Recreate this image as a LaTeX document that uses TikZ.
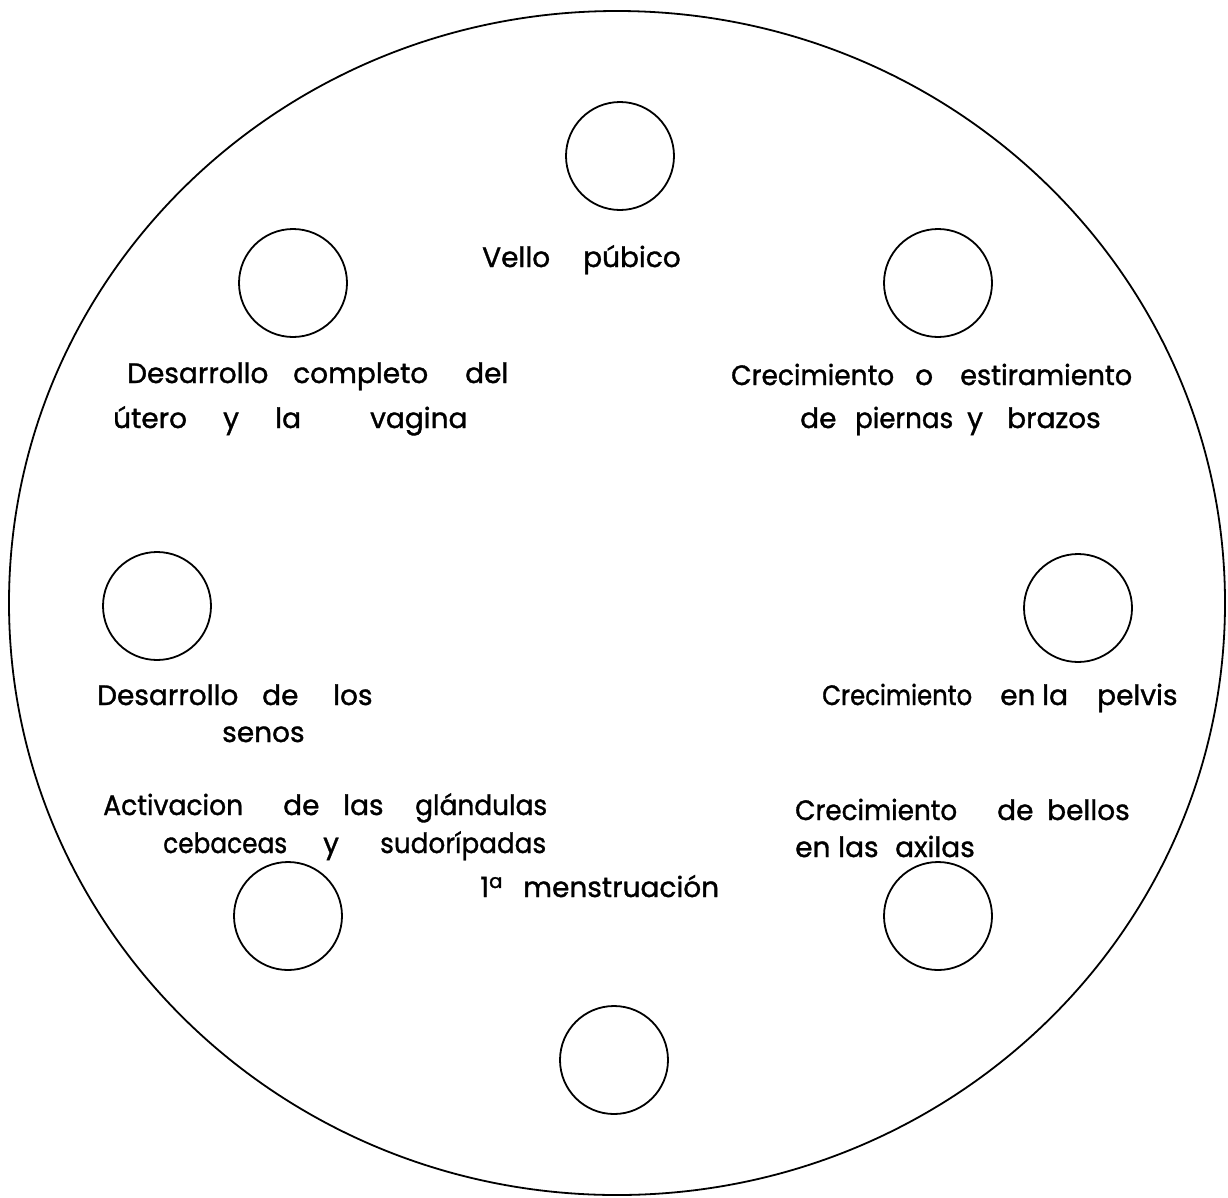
\documentclass[tikz,border=0pt]{standalone}
\usepackage{fontspec}
\usepackage{graphicx}
\setmainfont{Poppins}[FakeBold=1.2]
\newcommand\Wrd[2]{\makebox[#1pt][l]{#2}}
\newcommand\Fit[2]{\resizebox{#1pt}{\height}{#2}}
\begin{document}
\begin{tikzpicture}[x=1pt,y=-1pt,
  spot/.style={circle,draw,line width=1.8pt,minimum size=108pt,inner sep=0pt},
  lbl/.style={anchor=base west,inner sep=0pt,font=\fontsize{28}{32}\selectfont}]
\path[use as bounding box,fill=white] (0,0) rectangle (1228,1197);
\draw[line width=1.8pt] (617,603) ellipse [x radius=608pt, y radius=592pt];

% small circles
\node[spot] (ctop) at (620,156) {};
\node[spot] (cul) at (293,283) {};
\node[spot] (cur) at (938,283) {};
\node[spot] (cl) at (157,606) {};
\node[spot] (cr) at (1078,608) {};
\node[spot] (cll) at (288,916) {};
\node[spot] (clr) at (938,916) {};
\node[spot] (cbot) at (614,1060) {};

% labels
\node[lbl] (tvello) at (482,267) {\Wrd{101}{Vello}púbico};
\node[lbl] (tutero1) at (127,383) {\Wrd{166}{Desarrollo}\Wrd{172}{completo}del};
\node[lbl] (tutero2) at (113,428) {\Wrd{110}{útero}\Wrd{52}{y}\Wrd{95}{la}vagina};
\node[lbl] (tpiern1) at (731,385) {\Wrd{184}{\Fit{163}{Crecimiento}}\Wrd{45}{o}\Fit{172}{estiramiento}};
\node[lbl] (tpiern2) at (800,428) {\Wrd{55}{de}\Wrd{112}{\Fit{98}{piernas}}\Wrd{40}{y}brazos};
\node[lbl] (tsenos1) at (97,705) {\Wrd{165}{Desarrollo}\Wrd{71}{de}los};
\node[lbl] (tsenos2) at (222,742) {senos};
\node[lbl] (tpelvis) at (822,705) {\Wrd{178}{\Fit{150}{Crecimiento}}\Wrd{42}{en}\Wrd{55}{la}pelvis};
\node[lbl] (tglan1) at (103,815) {\Wrd{180}{\Fit{140}{Activacion}}\Wrd{60}{de}\Wrd{72}{las}\Fit{132}{glándulas}};
\node[lbl] (tglan2) at (163,853) {\Wrd{160}{\Fit{124}{cebaceas}}\Wrd{57}{y}\Fit{166}{sudorípadas}};
\node[lbl] (taxil1) at (795,820) {\Wrd{202}{\Fit{162}{Crecimiento}}\Wrd{50}{de}bellos};
\node[lbl] (taxil2) at (795,857) {\Wrd{43}{en}\Wrd{57}{las}axilas};
\node[lbl] (tmenst) at (480,897) {\Wrd{43}{1\textsuperscript{a}}menstruación};
\end{tikzpicture}
\end{document}
